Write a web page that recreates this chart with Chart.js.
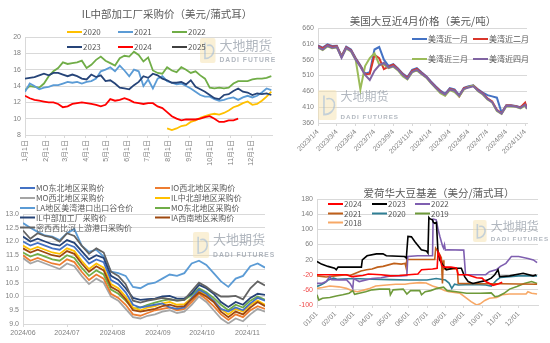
<!DOCTYPE html>
<html>
<head>
<meta charset="utf-8">
<script src="https://cdn.jsdelivr.net/npm/chart.js@4.4.0/dist/chart.umd.min.js"></script>
<style>
  body { margin: 0; background: #fff; width: 550px; height: 343px; position: relative; overflow: hidden; }
  canvas { position: absolute; }
</style>
</head>
<body>
<canvas id="c1" width="275" height="170" style="left:0;top:0"></canvas>
<canvas id="c2" width="270" height="170" style="left:280px;top:0"></canvas>
<canvas id="c3" width="280" height="173" style="left:0;top:170px"></canvas>
<canvas id="c4" width="270" height="173" style="left:280px;top:170px"></canvas>
<script>
// ---- IL中部加工厂采购价：按周（自1月1日起的天数）----
var weekDays = [0,7,14,21,28,35,42,49,56,63,70,77,84,91,98,105,112,119,126,133,140,147,154,161,168,175,182,189,196,203,210,217,224,231,238,245,252,259,266,273,280,287,294,301,308,315,322,329,336,343,350,357,364];
var monthDays = [0,31,59,90,120,151,181,212,243,273,304,334];
var monthLabels = ['1月1日','2月1日','3月1日','4月1日','5月1日','6月1日','7月1日','8月1日','9月1日','10月1日','11月1日','12月1日'];
var il2020 = [null,null,null,null,null,null,null,null,null,null,null,null,null,null,null,null,null,null,null,null,null,null,null,null,null,null,null,null,null,null,
  8.8,8.6,8.8,9.1,9.2,9.6,9.8,10.1,10.3,10.5,10.6,10.5,10.7,11.0,11.4,11.6,11.9,12.1,11.7,11.8,12.2,12.7,13.3];
var il2021 = [13.3,14.3,14.0,13.6,13.8,13.9,14.1,14.1,14.3,14.5,14.4,14.5,14.3,14.5,14.6,14.9,15.8,16.0,16.3,15.8,16.5,15.9,15.2,16.0,15.8,14.0,14.8,13.7,14.9,15.2,14.6,14.4,14.2,14.3,14.0,13.7,13.3,12.9,12.7,12.7,12.4,12.2,12.3,12.5,12.6,12.3,12.6,12.8,12.6,12.8,13.2,13.7,13.5];
var il2022 = [13.5,14.0,13.9,13.8,14.3,15.2,15.8,16.2,16.9,16.7,16.8,16.9,17.1,16.2,16.6,17.2,17.6,17.1,16.8,16.5,17.4,17.7,17.6,18.2,17.8,17.0,17.5,15.9,15.6,15.5,16.3,15.9,15.7,16.3,16.0,15.6,15.8,15.3,14.9,13.8,13.7,13.8,13.7,13.8,14.3,14.6,14.6,14.6,14.8,14.9,14.9,15.0,15.2];
var il2023 = [14.9,15.0,15.1,15.3,15.5,15.3,15.6,15.6,15.4,15.2,15.4,15.2,14.9,14.8,15.4,15.1,15.3,14.6,14.7,14.3,13.8,13.7,13.6,14.1,14.5,15.2,15.0,15.5,15.3,14.9,14.7,14.4,14.4,14.5,14.2,14.7,13.9,13.6,13.3,12.9,12.5,12.4,12.9,13.0,13.4,13.7,13.3,13.2,12.9,13.1,13.0,13.1,12.9];
var il2024 = [12.8,12.5,12.3,12.2,12.1,12.0,12.0,11.8,11.4,11.5,11.8,11.9,12.0,11.9,11.8,11.7,11.5,11.7,12.4,12.2,12.3,12.5,12.3,12.0,11.9,11.8,11.9,11.9,11.5,11.3,10.8,10.3,10.0,9.8,9.9,9.9,9.9,10.0,10.2,10.3,10.0,9.6,9.6,9.8,9.8,10.0,null,null,null,null,null,null,null];
var il2025 = [];

// ---- 美国大豆近4月价格：按半月（自2023/1/4起的月数）----
var priceMonths = [0,0.5,1,1.5,2,2.5,3,3.5,4,4.5,5,5.5,6,6.5,7,7.5,8,8.5,9,9.5,10,10.5,11,11.5,12,12.5,13,13.5,14,14.5,15,15.5,16,16.5,17,17.5,18,18.5,19,19.5,20,20.5,21,21.5,22,22.2];
var priceTicks = [0,2,4,6,8,10,12,14,16,18,20,22];
var priceTickLabels = ['2023/1/4','2023/3/4','2023/5/4','2023/7/4','2023/9/4','2023/11/4','2024/1/4','2024/3/4','2024/5/4','2024/7/4','2024/9/4','2024/11/4'];
var gulf1 = [605,598,608,603,604,572,601,592,565,542,516,520,592,600,560,540,546,532,516,505,528,533,520,508,491,476,462,452,470,466,448,471,476,479,466,456,448,444,440,393,416,416,414,410,420,408];
var gulf2 = [603,596,606,601,602,570,599,590,563,540,514,515,575,565,530,538,544,530,514,503,525,531,518,506,489,474,460,448,468,464,444,470,474,478,464,454,438,428,402,391,415,415,413,409,424,406];
var gulf3 = [598,590,602,596,598,568,595,586,560,466,540,565,580,545,545,533,538,526,508,498,520,526,514,503,486,470,454,446,464,458,444,466,474,478,460,450,434,425,398,389,412,413,411,406,415,404];
var gulf4 = [600,592,604,598,600,566,597,588,560,538,512,496,525,542,550,535,540,528,512,500,522,528,516,505,488,472,458,450,466,462,446,468,472,476,462,452,436,426,400,390,414,414,412,408,418,405];

// ---- 各地区采购价：每5天（自2024/6/1起的天数）----
var regionDays = [0,5,10,15,20,25,30,35,40,45,50,55,60,65,70,75,80,85,90,95,100,105,110,115,120,125,130,135,140,145,150,155,160,165];
var regionTicks = [0,30,61,92,122,153];
var regionTickLabels = ['2024/06','2024/07','2024/08','2024/09','2024/10','2024/11'];
var moNE = [12.0,11.85,11.95,11.85,11.75,11.7,11.9,11.8,11.5,11.2,11.35,11.25,10.6,10.45,10.15,9.7,9.6,9.65,9.7,9.75,9.6,9.55,9.6,9.95,10.25,10.1,9.85,9.55,9.45,9.6,9.5,9.75,9.95,9.85];
var ioNW = [11.5,11.3,11.4,11.3,11.2,11.15,11.35,11.25,10.9,10.6,10.8,10.65,10.1,9.95,9.7,9.35,9.3,9.4,9.5,9.55,9.6,9.5,9.55,9.8,10.1,9.9,9.65,9.35,9.15,9.35,9.25,9.5,9.65,9.55];
var moNW = [11.4,11.2,11.3,11.2,11.1,11.0,11.2,11.1,10.75,10.45,10.65,10.5,10.0,9.85,9.55,9.25,9.2,9.3,9.35,9.45,9.5,9.4,9.45,9.7,10.0,9.8,9.5,9.2,9.02,9.2,9.1,9.35,9.55,9.45];
var ilNC = [11.85,11.7,11.8,11.7,11.6,11.55,11.75,11.65,11.3,11.0,11.2,11.05,10.45,10.3,10.0,9.6,9.5,9.6,9.65,9.75,9.8,9.7,9.72,9.95,10.2,10.05,9.85,9.55,9.35,9.55,9.45,9.7,9.85,9.7];
var laGulf = [12.67,12.5,12.35,12.22,12.18,12.05,12.3,12.45,11.85,11.62,11.7,11.45,10.9,10.85,10.75,10.35,10.3,10.45,10.5,10.65,10.8,10.75,10.85,11.2,11.3,11.15,10.85,10.55,10.35,10.65,10.75,11.1,11.2,11.05];
var moNE2 = [11.6,11.45,11.55,11.45,11.35,11.3,11.5,11.4,11.05,10.75,10.95,10.8,10.25,10.1,9.85,9.55,9.6,9.7,9.78,9.85,9.9,9.85,9.88,10.05,10.3,10.15,9.95,9.7,9.5,9.7,9.6,9.85,10.0,9.88];
var ilCentral = [12.18,12.0,12.1,12.0,11.9,11.85,12.05,11.95,11.65,11.35,11.5,11.4,10.75,10.6,10.3,9.95,9.88,9.9,9.92,10.0,10.02,9.92,9.93,10.1,10.42,10.3,10.1,9.8,9.62,9.8,9.7,9.95,10.1,10.06];
var iaSW = [11.75,11.6,11.7,11.6,11.5,11.45,11.65,11.55,11.2,10.9,11.1,10.95,10.35,10.2,9.9,9.5,9.45,9.5,9.55,9.65,9.7,9.62,9.65,9.9,10.15,10.0,9.8,9.45,9.25,9.45,9.35,9.6,9.8,9.65];
var upperMiss = [12.4,12.1,12.3,12.2,12.15,12.0,12.3,12.2,11.85,11.55,11.75,11.6,10.9,10.75,10.45,9.85,9.78,9.85,9.9,9.95,9.9,9.85,9.88,10.2,10.5,10.35,10.15,10.0,10.0,10.02,9.9,10.3,10.55,10.4];

// ---- 爱荷华大豆基差：月份位置（0 = 01/01）与基差 ----
var basisTicks = [0,1,2,3,4,5,6,7,8,9,10,11];
var basisTickLabels = ['01/01','02/01','03/01','04/01','05/01','06/01','07/01','08/01','09/01','10/01','11/01','12/01'];
var b2024x = [0,1.6,1.9,2.5,2.8,3.5,4.0,4.5,5.0,5.5,5.7,6.3,6.55,6.6,6.7,6.8,6.9,7.3,7.6,7.7,8.2,8.7,9.0,9.2,9.6,9.9,10.1];
var b2024y = [-20,-20,-25,-22,-18,-20,-23,-22,-20,-18,-7,-5,-3,40,30,5,0,0,-2,-20,-20,-28,-29,-38,-48,-44,-40];
var b2023x = [0,0.24,0.6,0.96,1.05,1.15,2.42,2.47,2.73,3.24,3.6,3.78,4.78,4.87,4.96,5.15,5.33,5.69,5.96,6.05,6.1,6.15,6.29,6.35,6.42,6.51,6.6,6.69,6.87,7.05,7.42,7.87,8.05,8.24,8.5,9.24,9.5,9.69,9.87,9.96,10.5,11.24,11.78,11.96];
var b2023y = [15,8,2,-3,-7,0,0,19,30,35,35,30,28,24,81,80,68,46,43,37,131,128,125,118,116,118,37,19,5,-7,-3,-3,-25,-38,-43,-35,-29,-20,-7,-25,-23,-16,-23,-20];
var b2022x = [0,0.25,0.5,0.7,0.8,1.2,1.6,1.8,1.95,2.0,2.3,3.0,3.5,4.0,4.6,4.9,4.95,5.5,6.3,6.33,6.5,6.6,6.7,6.85,6.9,6.95,7.0,7.1,8.0,8.1,9.2,9.4,9.8,10.0,10.3,10.6,11.0,11.5,11.8,12.0];
var b2022y = [-43,-43,-38,-25,-33,-34,-33,-43,-56,-30,-38,-30,-28,-23,-23,-22,28,30,30,127,125,100,81,55,50,59,45,46,45,-20,-20,-12,-6,2,10,28,28,23,19,12];
var b2021x = [0,0.5,1.0,1.6,1.8,2.1,2.4,2.7,3.0,3.3,3.6,3.9,4.2,4.6,4.8,4.85,4.9,6.42,6.47,6.55,6.65,6.78,6.84,6.88,6.92,7.65,7.7,9.0,10.0,12.0];
var b2021y = [-23,-26,-23,-20,-22,-16,-10,-7,-5,0,2,6,10,8,10,0,20,20,50,45,37,25,-43,18,-5,-5,-43,-44,-44,-45];
var b2020x = [0,0.2,0.4,0.6,0.9,1.1,2.0,3.0,4.0,5.0,6.0,6.5,7.0,7.2,7.35,7.5,7.7,8.5,9.2,9.5,9.8,10.0,10.5,11.0,12.0];
var b2020y = [-51,-47,-42,-34,-29,-32,-30,-32,-33,-34,-34,-30,-34,-42,-56,-45,-47,-46,-47,-50,-34,-27,-25,-23,-23];
var b2019x = [0,0.1,0.3,0.7,1.05,1.4,1.75,1.95,2.05,2.3,2.65,3.0,3.4,3.95,4.0,4.15,4.7,4.9,5.1,5.6,5.7,5.9,6.2,6.55,6.9,7.1,7.6,8.15,8.9,9.5,9.7,9.9,10.2,10.5,10.9,11.3,11.7,12.0];
var b2019y = [-73,-87,-82,-80,-76,-73,-69,-62,-72,-69,-65,-60,-58,-58,-73,-60,-58,-71,-62,-62,-73,-65,-62,-56,-53,-62,-65,-69,-69,-68,-78,-76,-69,-58,-51,-43,-38,-43];
var b2018x = [0,0.3,0.7,1.2,1.6,1.9,2.2,2.6,2.9,3.2,3.8,4.3,4.8,5.05,5.6,5.95,6.3,6.7,6.95,7.2,7.8,8.15,8.4,8.7,8.9,9.15,9.4,9.8,10.1,10.5,11.0,11.4,11.5,11.7,12.0];
var b2018y = [-56,-54,-50,-52,-56,-62,-65,-60,-56,-50,-47,-45,-45,-43,-41,-42,-50,-56,-62,-65,-69,-82,-91,-100,-97,-88,-82,-80,-73,-71,-71,-71,-65,-69,-71];

var gridColor = '#d9d9d9';
var tickColor = '#808080';
var textColor = '#595959';
var numFont = '"Liberation Sans", "Noto Sans CJK SC", sans-serif';
var cjkFont = '"Noto Sans CJK SC", sans-serif';

function pts(xs, ys) {
  return xs.map(function (x, i) { return { x: x, y: ys[i] }; });
}

function line(label, xs, ys, color, order, width) {
  return {
    label: label, data: pts(xs, ys), borderColor: color, backgroundColor: color,
    borderWidth: width, pointRadius: 0, tension: 0, fill: false, order: order, spanGaps: false
  };
}

function roundRect(ctx, x, y, w, h, r) {
  ctx.beginPath();
  ctx.moveTo(x + r, y);
  ctx.lineTo(x + w - r, y); ctx.quadraticCurveTo(x + w, y, x + w, y + r);
  ctx.lineTo(x + w, y + h - r); ctx.quadraticCurveTo(x + w, y + h, x + w - r, y + h);
  ctx.lineTo(x + r, y + h); ctx.quadraticCurveTo(x, y + h, x, y + h - r);
  ctx.lineTo(x, y + r); ctx.quadraticCurveTo(x, y, x + r, y);
  ctx.closePath();
}

// 水印：logo + 大地期货
function drawMark(ctx, m) {
  var w = m.h * 0.62, x = m.x, y = m.y, h = m.h;
  ctx.save();
  ctx.globalAlpha = 0.5;
  ctx.fillStyle = '#f5e2ad';
  roundRect(ctx, x, y, w, h, 2);
  ctx.fill();
  ctx.strokeStyle = '#8fb2dc';
  ctx.lineWidth = 1.6;
  ctx.beginPath();
  ctx.moveTo(x + w * 0.32, y + h * 0.18);
  ctx.lineTo(x + w * 0.32, y + h * 0.82);
  ctx.bezierCurveTo(x + w * 1.05, y + h * 0.82, x + w * 1.05, y + h * 0.18, x + w * 0.45, y + h * 0.3);
  ctx.stroke();
  ctx.globalAlpha = 0.6;
  ctx.fillStyle = '#7d8794';
  ctx.textAlign = 'left';
  ctx.textBaseline = 'alphabetic';
  ctx.font = m.fs + 'px ' + cjkFont;
  ctx.fillText('大地期货', x + w + 4, y + m.fs * 0.95);
  ctx.font = 'bold ' + (m.fs * 0.52) + 'px ' + numFont;
  ctx.letterSpacing = '1px';
  ctx.fillText('DADI FUTURES', x + w + 4, y + h - 1);
  ctx.restore();
}

function decor(cfg) {
  return {
    id: 'decor',
    beforeDatasetsDraw: function (chart) { drawMark(chart.ctx, cfg.mark); },
    afterDraw: function (chart) {
      var ctx = chart.ctx;
      ctx.save();
      if (cfg.title) {
        ctx.fillStyle = textColor;
        ctx.font = '10.5px ' + cjkFont;
        ctx.textAlign = 'center';
        ctx.textBaseline = 'middle';
        ctx.fillText(cfg.title.text, cfg.title.x, cfg.title.y);
      }
      ctx.font = '8px ' + cjkFont;
      ctx.textAlign = 'left';
      ctx.textBaseline = 'middle';
      cfg.legend.forEach(function (it) {
        ctx.strokeStyle = it.color;
        ctx.lineWidth = 2;
        ctx.beginPath();
        ctx.moveTo(it.x, it.y);
        ctx.lineTo(it.x + 15, it.y);
        ctx.stroke();
        ctx.fillStyle = textColor;
        ctx.fillText(it.text, it.x + 16, it.y);
      });
      ctx.restore();
    }
  };
}

function options(o) {
  var yTicks = { stepSize: o.yStep, color: o.yColor || tickColor, font: { size: 7, family: numFont }, padding: 4 };
  if (o.yFmt) yTicks.callback = o.yFmt;
  return {
    responsive: false,
    animation: false,
    events: [],
    layout: { autoPadding: false, padding: { top: o.top, right: o.right, left: 0, bottom: 0 } },
    plugins: { legend: { display: false }, tooltip: { enabled: false }, title: { display: false } },
    scales: {
      x: {
        type: 'linear', min: o.xMin, max: o.xMax,
        afterFit: function (s) { s.height = o.xH; },
        afterBuildTicks: function (s) { s.ticks = o.xTicks.map(function (v) { return { value: v }; }); },
        grid: { drawOnChartArea: false, drawTicks: true, tickLength: 3, color: gridColor },
        border: { color: gridColor },
        ticks: {
          autoSkip: false, minRotation: o.rot, maxRotation: o.rot, padding: 2,
          color: tickColor, font: { size: 7, family: numFont },
          callback: function (v, i) { return o.xLabels[i]; }
        }
      },
      y: {
        min: o.yMin, max: o.yMax,
        afterFit: function (s) { s.width = o.yW; },
        grid: { color: gridColor, drawTicks: false },
        border: { color: gridColor },
        ticks: yTicks
      }
    }
  };
}

// 左上：IL中部加工厂采购价
new Chart(document.getElementById('c1'), {
  type: 'line',
  data: {
    datasets: [
      line('2020', weekDays, il2020, '#FFC000', 4, 1.8),
      line('2021', weekDays, il2021, '#5B9BD5', 5, 1.8),
      line('2022', weekDays, il2022, '#70AD47', 6, 1.8),
      line('2023', weekDays, il2023, '#264478', 2, 1.8),
      line('2024', weekDays, il2024, '#FF0000', 1, 1.8),
      line('2025', weekDays, il2025, '#404040', 0, 1.8)
    ]
  },
  options: options({ xMin: 0, xMax: 365, xTicks: monthDays, xLabels: monthLabels, rot: 90, xH: 35,
    yMin: 8, yMax: 20, yStep: 2, yW: 25, top: 37, right: 3 }),
  plugins: [decor({
    title: { text: 'IL中部加工厂采购价（美元/蒲式耳）', x: 167, y: 14 },
    mark: { x: 200, y: 38, h: 25, fs: 13 },
    legend: [
      { text: '2020', color: '#FFC000', x: 67, y: 32 },
      { text: '2021', color: '#5B9BD5', x: 118, y: 32 },
      { text: '2022', color: '#70AD47', x: 172, y: 32 },
      { text: '2023', color: '#264478', x: 67, y: 47 },
      { text: '2024', color: '#FF0000', x: 118, y: 47 },
      { text: '2025', color: '#404040', x: 172, y: 47 }
    ]
  })]
});

// 右上：美国大豆近4月价格
new Chart(document.getElementById('c2'), {
  type: 'line',
  data: {
    datasets: [
      line('美湾近一月', priceMonths, gulf1, '#4472C4', 4, 2),
      line('美湾近二月', priceMonths, gulf2, '#D9362B', 3, 2),
      line('美湾近三月', priceMonths, gulf3, '#9BBB59', 2, 2),
      line('美湾近四月', priceMonths, gulf4, '#8064A2', 1, 2)
    ]
  },
  options: options({ xMin: 0, xMax: 22.2, xTicks: priceTicks, xLabels: priceTickLabels, rot: 45, xH: 47,
    yMin: 360, yMax: 660, yStep: 50, yW: 38, top: 28, right: 23 }),
  plugins: [decor({
    title: { text: '美国大豆近4月价格（美元/吨）', x: 143, y: 21 },
    mark: { x: 38, y: 90, h: 30, fs: 12 },
    legend: [
      { text: '美湾近一月', color: '#4472C4', x: 132, y: 39 },
      { text: '美湾近二月', color: '#D9362B', x: 193, y: 39 },
      { text: '美湾近三月', color: '#9BBB59', x: 132, y: 59 },
      { text: '美湾近四月', color: '#8064A2', x: 193, y: 59 }
    ]
  })]
});

// 左下：各地区采购价
new Chart(document.getElementById('c3'), {
  type: 'line',
  data: {
    datasets: [
      line('MO东北地区采购价', regionDays, moNE, '#4472C4', 5, 1.8),
      line('IO西北地区采购价', regionDays, ioNW, '#ED7D31', 8, 1.8),
      line('MO西北地区采购价', regionDays, moNW, '#A5A5A5', 9, 1.8),
      line('IL中北部地区采购价', regionDays, ilNC, '#FFC000', 6, 1.8),
      line('LA地区美湾港口出口谷仓价', regionDays, laGulf, '#5B9BD5', 3, 1.8),
      line('MO东北地区采购价', regionDays, moNE2, '#70AD47', 7, 1.8),
      line('IL中部加工厂采购价', regionDays, ilCentral, '#264478', 2, 1.8),
      line('IA西南地区采购价', regionDays, iaSW, '#9E480E', 4, 1.8),
      line('密西西比河上游港口采购价', regionDays, upperMiss, '#636363', 1, 1.8)
    ]
  },
  options: options({ xMin: 0, xMax: 165, xTicks: regionTicks, xLabels: regionTickLabels, rot: 0, xH: 19,
    yMin: 9, yMax: 13, yStep: 0.5, yW: 23, top: 44, right: 15,
    yFmt: function (v) { return v.toFixed(1); } }),
  plugins: [decor({
    mark: { x: 193, y: 62, h: 26, fs: 13 },
    legend: [
      { text: 'MO东北地区采购价', color: '#4472C4', x: 20, y: 18 },
      { text: 'IO西北地区采购价', color: '#ED7D31', x: 155, y: 18 },
      { text: 'MO西北地区采购价', color: '#A5A5A5', x: 20, y: 28 },
      { text: 'IL中北部地区采购价', color: '#FFC000', x: 155, y: 28 },
      { text: 'LA地区美湾港口出口谷仓价', color: '#5B9BD5', x: 20, y: 38 },
      { text: 'MO东北地区采购价', color: '#70AD47', x: 155, y: 38 },
      { text: 'IL中部加工厂采购价', color: '#264478', x: 20, y: 47.5 },
      { text: 'IA西南地区采购价', color: '#9E480E', x: 155, y: 47.5 },
      { text: '密西西比河上游港口采购价', color: '#636363', x: 20, y: 57.5 }
    ]
  })]
});

// 右下：爱荷华大豆基差
new Chart(document.getElementById('c4'), {
  type: 'line',
  data: {
    datasets: [
      line('2024', b2024x, b2024y, '#FF0000', 1, 1.6),
      line('2023', b2023x, b2023y, '#000000', 2, 1.6),
      line('2022', b2022x, b2022y, '#7F5FB0', 3, 1.6),
      line('2021', b2021x, b2021y, '#C0601A', 4, 1.6),
      line('2020', b2020x, b2020y, '#2F7F95', 5, 1.6),
      line('2019', b2019x, b2019y, '#6E9A3A', 6, 1.6),
      line('2018', b2018x, b2018y, '#F7A866', 7, 1.6)
    ]
  },
  options: options({ xMin: 0, xMax: 12.05, xTicks: basisTicks, xLabels: basisTickLabels, rot: 45, xH: 38,
    yMin: -100, yMax: 180, yStep: 40, yW: 37, top: 29, right: 12,
    yColor: function (c) { return c.tick && c.tick.value < 0 ? '#F04A4A' : tickColor; } }),
  plugins: [decor({
    title: { text: '爱荷华大豆基差（美分/蒲式耳）', x: 159, y: 23 },
    mark: { x: 193, y: 50, h: 22, fs: 12 },
    legend: [
      { text: '2024', color: '#FF0000', x: 48, y: 34 },
      { text: '2023', color: '#000000', x: 92, y: 34 },
      { text: '2022', color: '#7F5FB0', x: 135, y: 34 },
      { text: '2021', color: '#C0601A', x: 48, y: 43.5 },
      { text: '2020', color: '#2F7F95', x: 92, y: 43.5 },
      { text: '2019', color: '#6E9A3A', x: 135, y: 43.5 },
      { text: '2018', color: '#F7A866', x: 48, y: 52.5 }
    ]
  })]
});
</script>
</body>
</html>
